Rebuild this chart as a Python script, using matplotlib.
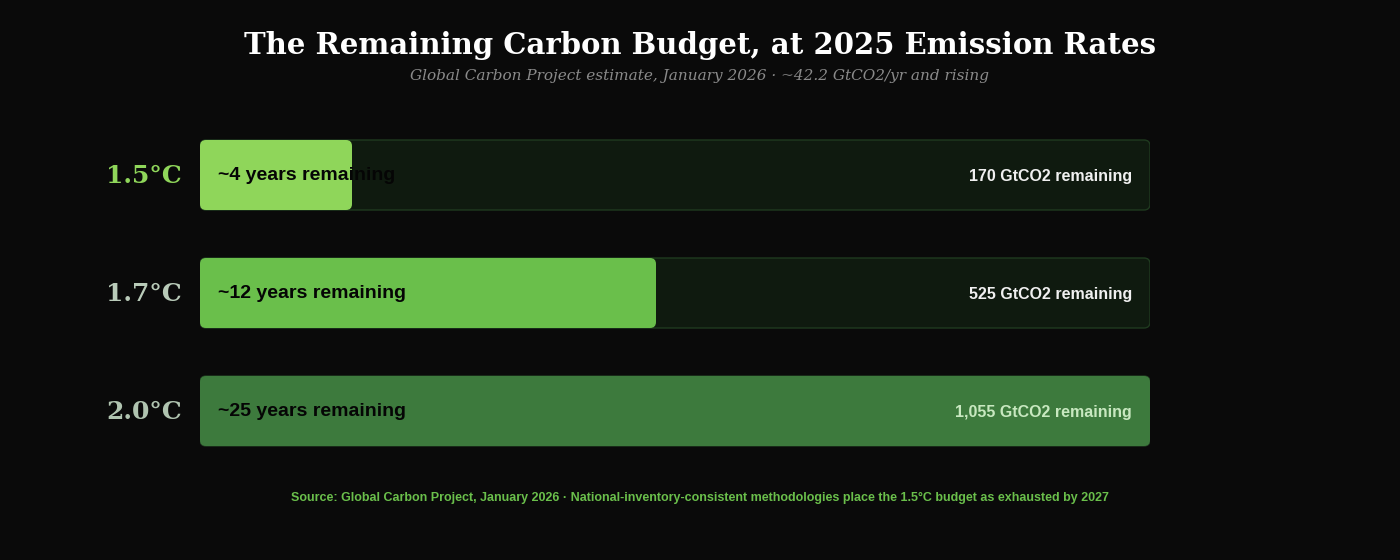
import matplotlib
matplotlib.use("Agg")
import matplotlib.pyplot as plt
from matplotlib.patches import FancyBboxPatch

labels = ["1.5°C", "1.7°C", "2.0°C"]
years = [4, 12, 25]
budgets = ["170 GtCO2 remaining", "525 GtCO2 remaining", "1,055 GtCO2 remaining"]
max_years = 25
bar_colors = ["#8fd65a", "#6abf4b", "#3d7a3d"]
label_colors = ["#8fd65a", "#b9cbb9", "#b0c4b0"]
budget_colors = ["#f0f0f0", "#f0f0f0", "#c8e8c0"]

W, H = 1400, 560
fig = plt.figure(figsize=(14, 5.6), dpi=100, facecolor="#0a0a0a")
ax = fig.add_axes([200 / W, 1 - 460 / H, 950 / W, 340 / H])
ax.set_facecolor("#0a0a0a")
ax.set_xlim(0, max_years)
ax.set_ylim(460, 120)
ax.axis("off")

xu = max_years / 950.0
r = 6 * xu
centers = [175, 293, 411]
bh = 70
for i in range(3):
    y0 = centers[i] - bh / 2
    track = FancyBboxPatch((0, y0), max_years, bh, boxstyle=f"round,pad=0,rounding_size={r}",
                           mutation_aspect=1 / xu, fc="#0f1a0f", ec="#1f3a1f", lw=1)
    ax.add_patch(track)
    bar = FancyBboxPatch((0, y0), years[i], bh, boxstyle=f"round,pad=0,rounding_size={r}",
                         mutation_aspect=1 / xu, fc=bar_colors[i], ec="none")
    ax.add_patch(bar)
    ax.text(18 * xu, centers[i], f"~{years[i]} years remaining", ha="left", va="center",
            fontsize=14, fontweight="bold", color="#050505", family="Liberation Sans")
    ax.text(max_years - 18 * xu, centers[i] + 1, budgets[i], ha="right", va="center",
            fontsize=11.5, fontweight="bold", color=budget_colors[i], family="Liberation Sans")
    ax.text(-18 * xu, centers[i] + 1, labels[i], ha="right", va="center", fontsize=18,
            fontweight="bold", color=label_colors[i], family="DejaVu Serif", clip_on=False)

fig.text(700 / W, 1 - 45 / H, "The Remaining Carbon Budget, at 2025 Emission Rates",
         ha="center", va="center", fontsize=21, fontweight="bold", color="white", family="DejaVu Serif")
fig.text(700 / W, 1 - 76 / H, "Global Carbon Project estimate, January 2026 · ~42.2 GtCO2/yr and rising",
         ha="center", va="center", fontsize=11, style="italic", color="#8a8a8a", family="DejaVu Serif")
fig.text(700 / W, 1 - 498 / H,
         "Source: Global Carbon Project, January 2026 · National-inventory-consistent methodologies place the 1.5°C budget as exhausted by 2027",
         ha="center", va="center", fontsize=9, fontweight="bold", color="#6abf4b", family="Liberation Sans")

fig.savefig("out.png", dpi=100, facecolor=fig.get_facecolor())
